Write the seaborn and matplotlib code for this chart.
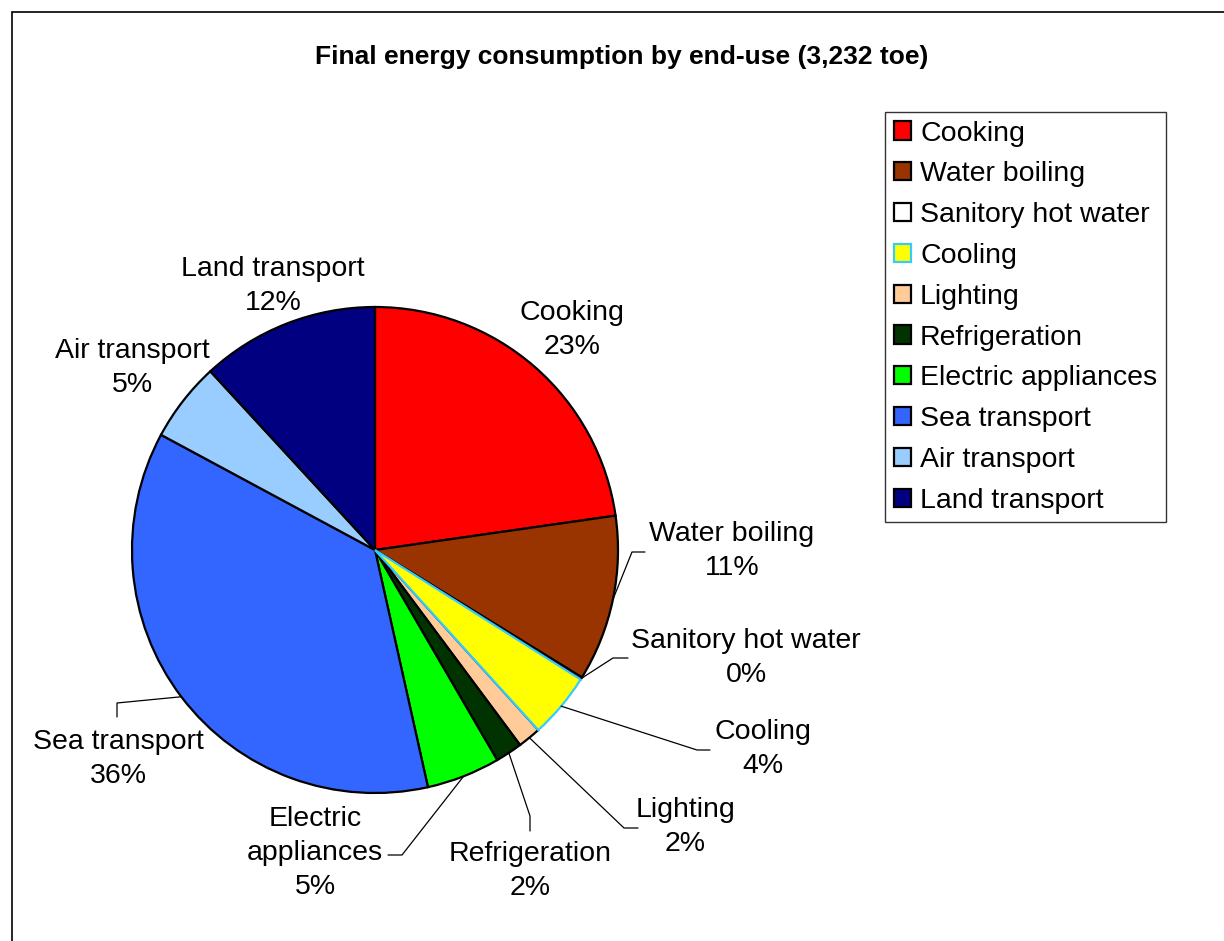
import matplotlib
matplotlib.use("Agg")
import numpy as np
import matplotlib.pyplot as plt
import seaborn as sns
from matplotlib.patches import Patch, Rectangle

categories = ["Cooking", "Water boiling", "Sanitory hot water", "Cooling", "Lighting",
              "Refrigeration", "Electric appliances", "Sea transport", "Air transport",
              "Land transport"]
values_toe = [735, 357, 5, 140, 50, 58, 158, 1175, 171, 383]
slice_labels = ["Cooking", "Water boiling", "Sanitory hot water", "Cooling", "Lighting",
                "Refrigeration", "Electric\nappliances", "Sea transport", "Air transport",
                "Land transport"]

fill_colors = ["#FF0000", "#993300", "#FFFFFF", "#FFFF00", "#FFCC99",
               "#003300", "#00FF00", "#3366FF", "#99CCFF", "#000080"]
edge_colors = ["black", "black", "black", "#33CCFF", "black",
               "black", "black", "black", "black", "black"]

W, H = 1224, 941

# label centres and leader elbows, in image pixels (y from top)
label_pos = {
    "Cooking": (572, 330), "Water boiling": (732, 551), "Sanitory hot water": (746, 658),
    "Cooling": (763, 749), "Lighting": (685, 827), "Refrigeration": (530, 871),
    "Electric appliances": (315, 853), "Sea transport": (118, 759),
    "Air transport": (132, 368), "Land transport": (273, 286),
}
leaders = {
    "Water boiling": [(632, 552), (645, 552)],
    "Sanitory hot water": [(613, 658), (628, 658)],
    "Cooling": [(697, 750), (710, 750)],
    "Lighting": [(624, 828), (638, 828)],
    "Refrigeration": [(530, 816), (530, 831)],
    "Electric appliances": [(402, 855), (388, 855)],
    "Sea transport": [(117, 703), (117, 717)],
}


def px(x, y):
    return x, H - y


sns.set_theme(style="white")
plt.rcParams['font.family'] = ['Liberation Sans', 'DejaVu Sans']
plt.rcParams['text.color'] = 'black'

fig = plt.figure(figsize=(W / 100, H / 100), dpi=100)
ax = fig.add_axes([0, 0, 1, 1])

cx, cy = px(375, 550)
r = 243
wedges, _ = ax.pie(values_toe, colors=fill_colors, startangle=90, counterclock=False,
                   center=(cx, cy), radius=r,
                   wedgeprops=dict(edgecolor="black", linewidth=1.6))
for w, ec in zip(wedges, edge_colors):
    w.set_edgecolor(ec)
# cyan-edged slice drawn on top so its border is visible
wedges[3].set_zorder(3)

ax.set_xlim(0, W)
ax.set_ylim(0, H)
ax.set_aspect("equal")
ax.axis("off")

total = sum(values_toe)
for cat, lab, v, w in zip(categories, slice_labels, values_toe, wedges):
    pct = v / total * 100
    tx, ty = px(*label_pos[cat])
    ax.text(tx, ty, f"{lab}\n{pct:.0f}%", ha="center", va="center",
            fontsize=20.5, linespacing=1.38, color="black")
    if cat in leaders:
        mid = np.deg2rad((w.theta1 + w.theta2) / 2)
        pts = [(cx + r * np.cos(mid), cy + r * np.sin(mid))] + [px(*p) for p in leaders[cat]]
        xs, ys = zip(*pts)
        ax.plot(xs, ys, color="black", lw=0.9, zorder=4)

fig.text(622 / W, 1 - 57 / H, "Final energy consumption by end-use (3,232 toe)",
         ha="center", va="center", fontsize=19, fontweight="bold", color="black")

handles = [Patch(facecolor=fc, edgecolor=ec, linewidth=1.6)
           for fc, ec in zip(fill_colors, edge_colors)]
leg = fig.legend(handles, categories, loc="upper left",
                 bbox_to_anchor=(885 / W, 1 - 112 / H), bbox_transform=fig.transFigure,
                 fontsize=20.5, frameon=True, fancybox=False, borderaxespad=0,
                 handlelength=0.6, handleheight=0.6, handletextpad=0.33,
                 labelspacing=0.52, borderpad=0.3, labelcolor="black")
leg.get_frame().set_edgecolor("black")
leg.get_frame().set_linewidth(1.0)

# chart-area border (only left and top edges fall inside the image)
fig.add_artist(Rectangle((12 / W, -0.1), 2, 1.1 - 12 / H, transform=fig.transFigure,
                         fill=False, edgecolor="black", linewidth=1.2))

fig.savefig("out.png", dpi=100, facecolor="white")
